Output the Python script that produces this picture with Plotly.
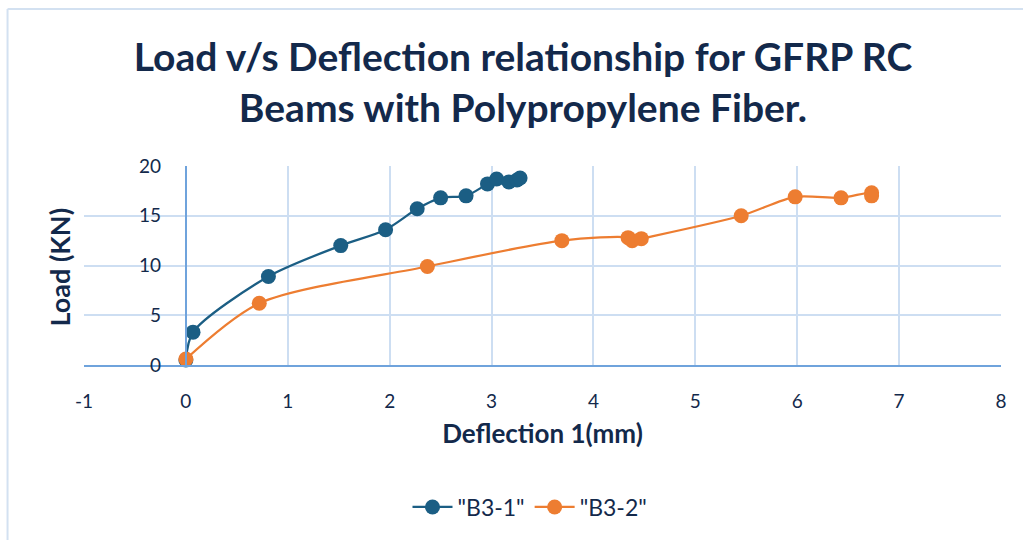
import plotly.graph_objects as go

# Load (KN) against mid-span deflection (mm) for the two beams
b31_deflection = [0.00, 0.07, 0.81, 1.52, 1.96, 2.27, 2.50, 2.75, 2.96, 3.05, 3.17, 3.25, 3.28]
b31_load = [0.5, 3.3, 8.9, 12.0, 13.6, 15.7, 16.8, 17.0, 18.2, 18.7, 18.4, 18.6, 18.8]

b32_deflection = [0.00, 0.72, 2.37, 3.69, 4.34, 4.38, 4.47, 5.45, 5.98, 6.43, 6.73, 6.73]
b32_load = [0.6, 6.2, 9.9, 12.5, 12.8, 12.5, 12.7, 15.0, 16.9, 16.8, 17.3, 17.0]

x_ticks = [-1, 0, 1, 2, 3, 4, 5, 6, 7, 8]
x_tick_text = ["-1", "0", "1", "2", "3", "4", "5", "6", "7", "8"]
y_ticks = [0, 5, 10, 15, 20]

TEXT = "#13294B"
BLUE = "#1B5E84"
ORANGE = "#ED7D31"
AXIS = "#6FA3DC"
GRID = "#CDDEF2"
FONT = "Lato"

W, H = 1023, 540
L, R, T, B = 83.5, 22, 166, 175
pw, ph = W - L - R, H - T - B


def px(x):
    return (x - L) / pw


def py(y):
    return (H - B - y) / ph


fig = go.Figure()
fig.add_trace(go.Scatter(
    x=b31_deflection, y=b31_load, name='"B3-1"', mode="lines+markers",
    line=dict(color=BLUE, width=2.25, shape="spline", smoothing=0.8),
    marker=dict(color=BLUE, size=15, line=dict(width=0)),
    cliponaxis=False,
))
fig.add_trace(go.Scatter(
    x=b32_deflection, y=b32_load, name='"B3-2"', mode="lines+markers",
    line=dict(color=ORANGE, width=2.25, shape="spline", smoothing=0.8),
    marker=dict(color=ORANGE, size=15, line=dict(width=0)),
    cliponaxis=False,
))

# light frame around the chart area
fig.add_shape(type="line", xref="paper", yref="paper",
              x0=px(7), x1=px(W + 5), y0=py(9), y1=py(9),
              line=dict(color="#D3E1F1", width=2))
fig.add_shape(type="line", xref="paper", yref="paper",
              x0=px(7), x1=px(7), y0=py(9), y1=py(H + 5),
              line=dict(color="#D3E1F1", width=2))

fig.update_layout(
    width=W, height=H,
    margin=dict(l=L, r=R, t=T, b=B),
    paper_bgcolor="white", plot_bgcolor="white",
    font=dict(family=FONT, color=TEXT),
    title=dict(
        text="<b>Load v/s Deflection relationship for GFRP RC<br>Beams with Polypropylene Fiber.</b>",
        x=523 / W, xanchor="center", xref="container",
        y=1 - 71 / H, yanchor="middle", yref="container",
        font=dict(family=FONT, size=39, color=TEXT),
    ),
    xaxis=dict(
        range=[-1, 8], tickvals=x_ticks, ticktext=x_tick_text,
        showgrid=True, gridcolor=GRID, gridwidth=2,
        zeroline=False, showline=True, linecolor=AXIS, linewidth=2,
        ticks="outside", ticklen=18, tickcolor="rgba(0,0,0,0)",
        tickfont=dict(family=FONT, size=19, color=TEXT),
        title=dict(text="<b>Deflection 1(mm)</b>", standoff=14,
                   font=dict(family=FONT, size=26, color=TEXT)),
    ),
    yaxis=dict(
        range=[0, 20], tickvals=y_ticks, showgrid=True, gridcolor=GRID, gridwidth=2,
        zeroline=False, showline=True, linecolor=AXIS, linewidth=2,
        anchor="free", position=1 / 9,
        ticks="outside", ticklen=20, tickcolor="rgba(0,0,0,0)",
        tickfont=dict(family=FONT, size=19, color=TEXT),
    ),
    legend=dict(
        orientation="h", x=530 / W, xanchor="center", xref="container",
        y=1 - 507 / H, yanchor="middle", yref="container",
        font=dict(family=FONT, size=23, color=TEXT),
        itemwidth=40,
    ),
    showlegend=True,
)

# y axis title sits at the left of the full x range, not next to the free axis
fig.add_annotation(
    text="<b>Load (KN)</b>", textangle=-90, xref="paper", yref="paper",
    x=px(58), y=py(267), xanchor="center", yanchor="middle", showarrow=False,
    font=dict(family=FONT, size=27, color=TEXT),
)

fig.write_html("out.html")
